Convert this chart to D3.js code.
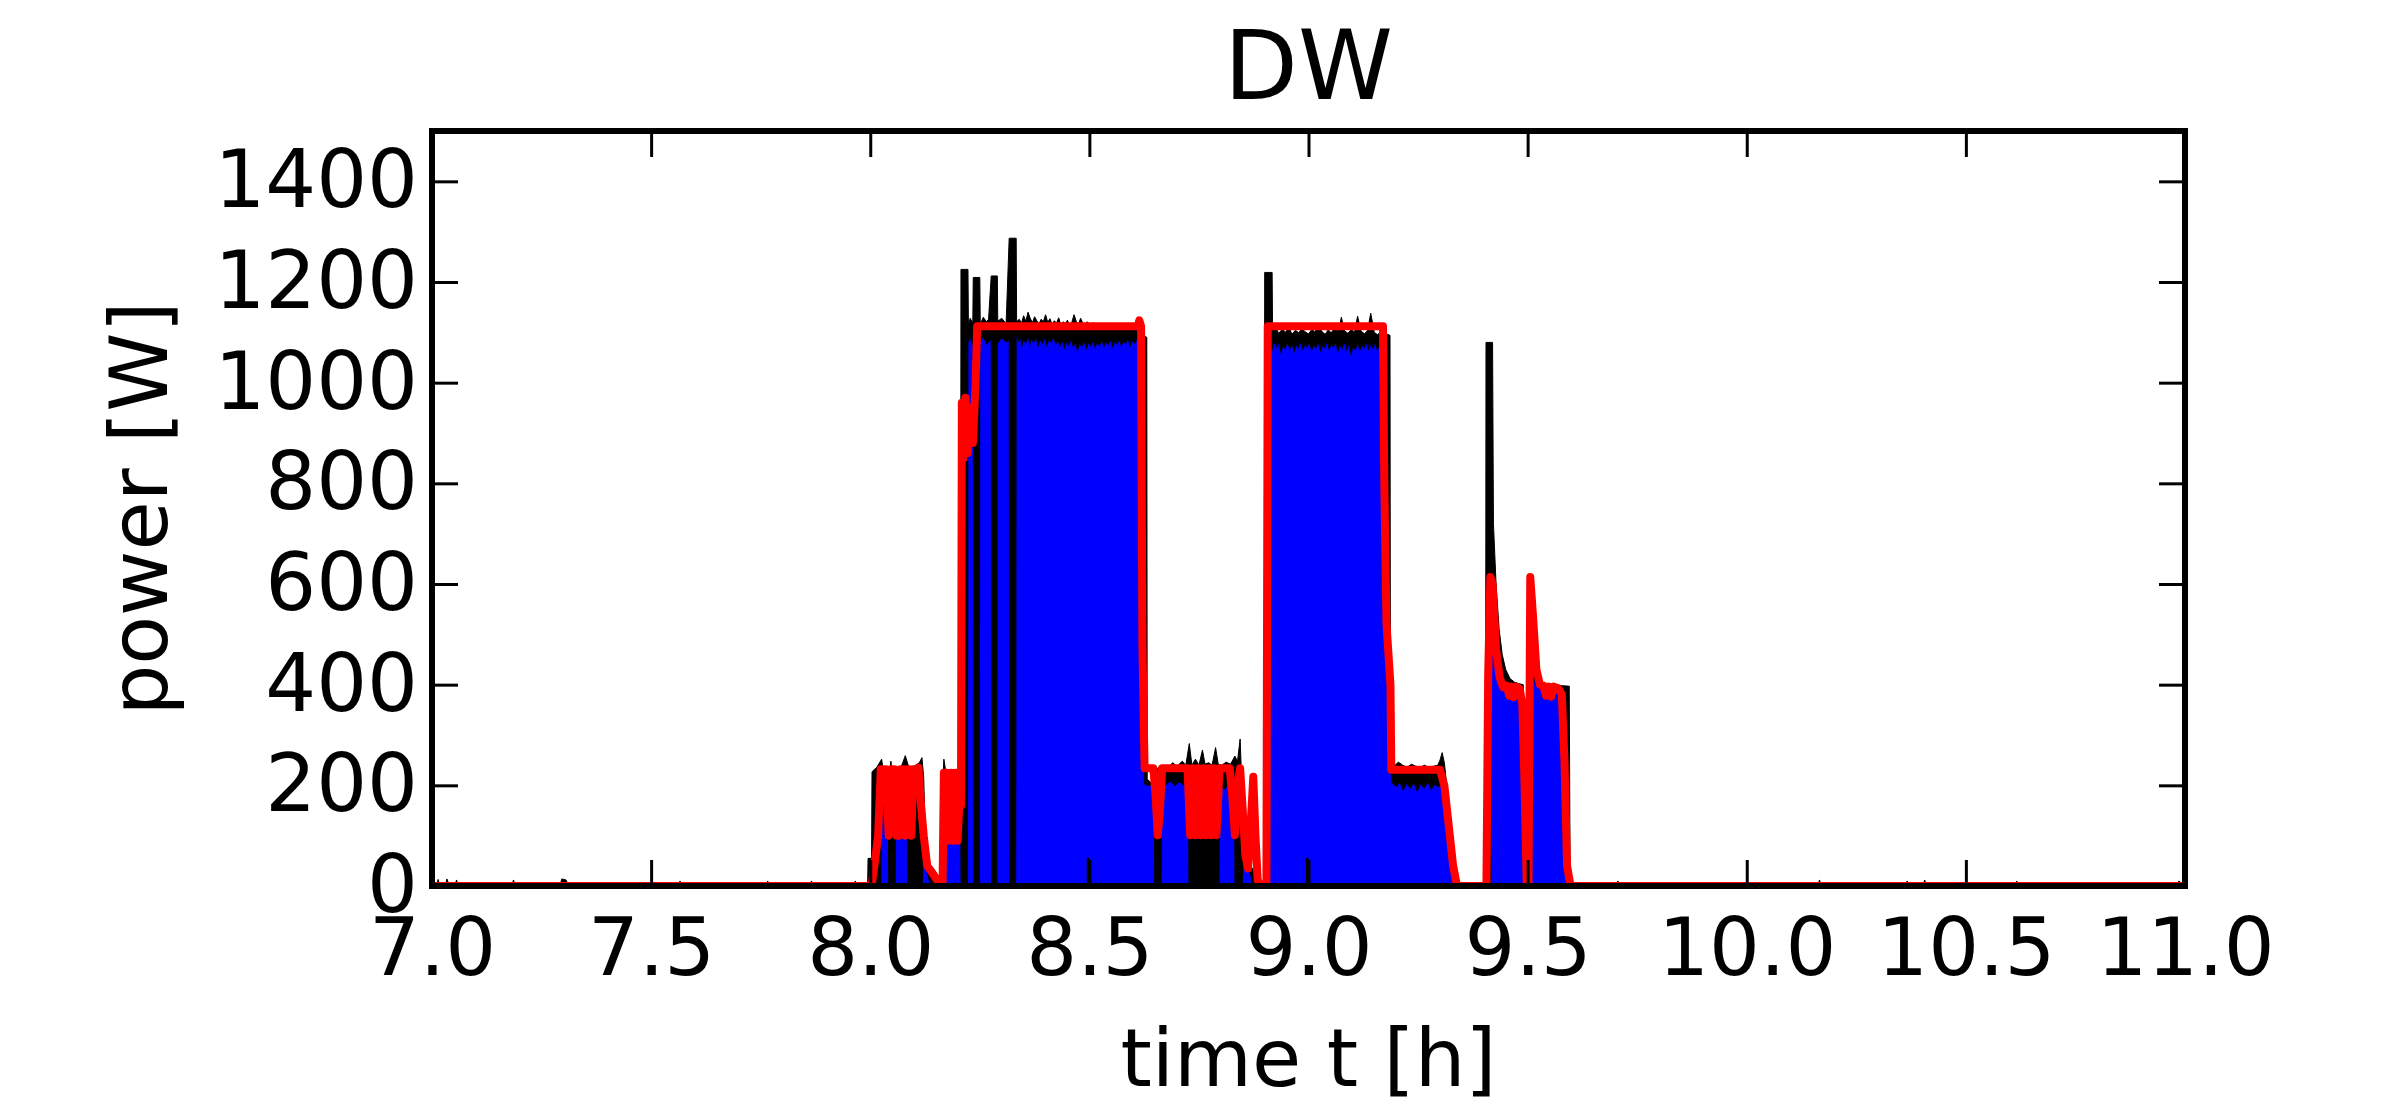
<!DOCTYPE html>
<html>
<head>
<meta charset="utf-8">
<script src="https://cdn.jsdelivr.net/npm/d3@7"></script>
<style>
body { margin: 0; background: #fff; }
text { font-family: "DejaVu Sans", sans-serif; fill: #000; }
</style>
</head>
<body>
<script>
// values
var xTicks = [7.0, 7.5, 8.0, 8.5, 9.0, 9.5, 10.0, 10.5, 11.0];
var yTicks = [0, 200, 400, 600, 800, 1000, 1200, 1400];

// measured power (black fill)  [t in h, W]
var measured = [
[7.000,0],[7.010,0],[7.014,13],[7.018,0],[7.030,0],[7.034,14],[7.040,0],[7.052,0],[7.056,12],[7.060,0],
[7.182,0],[7.186,12],[7.190,0],[7.292,0],[7.296,14],[7.306,12],[7.312,0],[7.562,0],[7.566,10],[7.570,0],
[7.762,0],[7.766,10],[7.770,0],[7.862,0],[7.866,10],[7.870,0],[7.962,0],[7.966,10],[7.970,0],
[7.994,0],[7.995,55],[8.003,55],[8.004,227],[8.015,236],[8.026,252],[8.030,228],[8.045,229],[8.047,248],
[8.050,228],[8.065,232],[8.072,240],[8.080,259],[8.088,236],[8.100,238],[8.112,245],[8.118,255],[8.122,215],
[8.125,120],[8.128,45],[8.140,38],[8.150,28],[8.158,12],[8.162,0],[8.164,180],[8.168,252],[8.172,229],
[8.185,231],[8.195,228],[8.206,229],
[8.207,1225],[8.223,1225],[8.224,1112],[8.228,1128],[8.234,1118],[8.235,1209],[8.250,1209],[8.251,1116],
[8.258,1130],[8.265,1121],[8.270,1126],[8.276,1212],[8.290,1212],[8.291,1122],[8.300,1128],[8.310,1117],
[8.317,1287],[8.333,1287],[8.334,1121],
[8.340,1126],[8.345,1118],[8.350,1133],[8.355,1122],[8.360,1140],[8.365,1128],[8.370,1119],[8.375,1131],
[8.380,1123],[8.385,1117],[8.390,1126],[8.395,1121],[8.400,1135],[8.405,1120],[8.410,1127],[8.415,1116],
[8.420,1123],[8.425,1118],[8.430,1129],[8.435,1114],[8.440,1121],[8.445,1117],[8.450,1124],[8.455,1113],
[8.460,1120],[8.465,1135],[8.470,1122],[8.475,1116],[8.480,1128],[8.485,1118],[8.490,1113],[8.495,1121],
[8.500,1116],[8.505,1112],[8.510,1119],[8.515,1114],[8.520,1110],[8.525,1117],[8.530,1112],[8.535,1108],
[8.540,1114],[8.545,1110],[8.550,1116],[8.555,1109],[8.560,1113],[8.565,1107],[8.570,1111],[8.575,1106],
[8.580,1112],[8.585,1108],[8.590,1110],[8.595,1105],[8.600,1109],[8.605,1104],[8.610,1108],[8.615,1102],
[8.620,1096],[8.631,1090],
[8.632,212],[8.640,206],[8.648,212],[8.652,232],[8.660,236],[8.668,240],[8.680,235],[8.690,245],[8.700,238],
[8.712,248],[8.720,240],[8.728,283],[8.734,240],[8.742,252],[8.750,240],[8.758,270],[8.764,242],[8.772,245],
[8.780,240],[8.788,275],[8.794,242],[8.802,240],[8.812,246],[8.822,242],[8.832,258],[8.838,248],[8.844,292],
[8.848,200],[8.852,110],[8.856,50],[8.866,42],[8.876,30],[8.884,12],[8.889,0],[8.899,0],
[8.900,1219],[8.917,1219],[8.918,1104],[8.925,1110],[8.932,1098],[8.940,1106],[8.948,1100],[8.955,1112],
[8.962,1096],[8.970,1104],[8.978,1099],[8.985,1108],[8.992,1101],[9.000,1097],[9.008,1106],[9.015,1100],
[9.022,1118],[9.030,1102],[9.038,1096],[9.045,1105],[9.052,1099],[9.060,1110],[9.068,1101],[9.075,1130],
[9.082,1103],[9.090,1098],[9.098,1106],[9.105,1100],[9.112,1132],[9.120,1102],[9.128,1097],[9.135,1104],
[9.142,1138],[9.150,1100],[9.158,1095],[9.165,1103],[9.172,1098],[9.180,1096],[9.186,1094],
[9.187,244],[9.195,238],[9.205,246],[9.215,240],[9.225,236],[9.235,242],[9.245,238],[9.255,236],[9.265,240],
[9.275,235],[9.285,238],[9.295,240],[9.300,250],[9.305,265],[9.310,245],[9.318,180],[9.326,90],[9.334,30],
[9.340,0],[9.404,0],
[9.405,1080],[9.420,1080],[9.422,720],[9.428,600],[9.435,510],[9.442,460],[9.450,430],[9.460,412],[9.470,405],
[9.480,402],[9.490,400],[9.493,250],[9.496,40],[9.499,40],[9.500,510],[9.504,500],[9.510,455],[9.518,420],
[9.526,408],[9.540,403],[9.560,400],[9.580,398],[9.595,397],[9.597,0],
[9.702,0],[9.706,10],[9.710,0],[10.162,0],[10.166,12],[10.170,0],[10.362,0],[10.366,10],[10.370,0],
[10.402,0],[10.406,12],[10.410,0],[10.612,0],[10.616,10],[10.620,0],[10.982,0],[10.986,10],[11.000,0]
];

// disaggregated appliance power (blue fill)
var appliance = [
[7.000,0],[8.025,0],[8.026,165],[8.040,162],[8.041,0],[8.058,0],[8.059,166],[8.070,160],[8.083,164],[8.084,0],
[8.120,0],[8.121,42],[8.128,30],[8.134,10],[8.135,0],[8.168,0],[8.170,164],[8.180,160],[8.190,166],[8.205,163],
[8.206,0],[8.223,0],
[8.224,1080],[8.228,1088],[8.234,1072],[8.235,0],[8.250,0],[8.251,1082],[8.258,1090],[8.265,1075],[8.275,1085],
[8.276,0],[8.290,0],[8.291,1078],[8.300,1088],[8.310,1080],[8.316,1084],[8.317,0],[8.333,0],
[8.334,1092],[8.338,1080],[8.342,1088],[8.346,1068],[8.350,1085],[8.355,1076],[8.360,1090],[8.364,1072],
[8.368,1086],[8.373,1078],[8.378,1088],[8.383,1070],[8.388,1084],[8.393,1076],[8.398,1087],[8.403,1071],
[8.408,1085],[8.413,1079],[8.418,1089],[8.423,1074],[8.428,1083],[8.433,1070],[8.438,1082],[8.443,1066],
[8.448,1080],[8.453,1072],[8.458,1084],[8.463,1068],[8.468,1079],[8.473,1060],[8.478,1077],[8.483,1070],
[8.488,1081],[8.493,1065],[8.498,1078],[8.503,1071],[8.508,1082],[8.513,1067],[8.518,1079],[8.523,1072],
[8.528,1083],[8.533,1069],[8.538,1080],[8.543,1074],[8.548,1084],[8.553,1068],[8.558,1081],[8.563,1075],
[8.568,1085],[8.573,1070],[8.578,1082],[8.583,1076],[8.588,1086],[8.593,1071],[8.598,1083],[8.603,1077],
[8.608,1085],[8.613,1072],[8.618,1080],[8.624,1078],
[8.625,202],[8.636,198],[8.647,203],[8.648,0],[8.665,0],[8.666,205],[8.675,200],[8.685,208],[8.695,198],
[8.705,206],[8.715,200],[8.725,204],[8.726,0],[8.797,0],[8.798,198],[8.808,192],[8.818,200],[8.830,195],
[8.831,0],[8.850,0],[8.851,55],[8.860,40],[8.868,20],[8.870,0],[8.911,0],
[8.912,1075],[8.917,1062],[8.922,1080],[8.927,1068],[8.932,1078],[8.937,1056],[8.942,1072],[8.947,1066],
[8.952,1079],[8.957,1064],[8.962,1076],[8.967,1058],[8.972,1074],[8.977,1067],[8.982,1080],[8.987,1063],
[8.992,1075],[8.997,1069],[9.002,1078],[9.007,1061],[9.012,1074],[9.017,1066],[9.022,1079],[9.027,1060],
[9.032,1073],[9.037,1068],[9.042,1080],[9.047,1063],[9.052,1076],[9.057,1069],[9.062,1078],[9.067,1059],
[9.072,1073],[9.077,1066],[9.082,1079],[9.087,1062],[9.092,1075],[9.097,1052],[9.102,1070],[9.107,1064],
[9.112,1077],[9.117,1061],[9.122,1074],[9.127,1067],[9.132,1079],[9.137,1063],[9.142,1076],[9.147,1066],
[9.152,1078],[9.157,1062],[9.162,1074],[9.167,1068],[9.170,1072],
[9.175,620],[9.180,420],[9.186,230],[9.190,205],[9.200,196],[9.208,205],[9.216,188],[9.224,203],[9.232,192],
[9.240,204],[9.248,186],[9.256,202],[9.264,193],[9.272,205],[9.280,190],[9.288,201],[9.296,196],[9.302,200],
[9.312,150],[9.322,90],[9.332,25],[9.338,0],[9.417,0],
[9.418,475],[9.425,440],[9.432,415],[9.440,400],[9.448,392],[9.456,396],[9.464,385],[9.472,394],[9.480,388],
[9.486,380],[9.490,300],[9.494,0],[9.510,0],[9.512,415],[9.518,400],[9.526,392],[9.534,396],[9.542,386],
[9.550,394],[9.560,388],[9.570,392],[9.580,386],[9.586,370],[9.590,0],[11.000,0]
];

// estimated power (red line)
var estimate = [
[7.000,0],[8.003,0],[8.010,45],[8.018,100],[8.024,232],[8.036,232],[8.042,100],[8.047,232],[8.055,232],
[8.060,100],[8.065,100],[8.069,232],[8.075,232],[8.080,100],[8.084,232],[8.090,232],[8.094,100],[8.098,232],
[8.104,232],[8.110,235],[8.116,160],[8.122,100],[8.130,40],[8.140,28],[8.150,15],[8.158,5],[8.165,0],
[8.168,225],[8.175,225],[8.180,90],[8.185,225],[8.190,90],[8.195,225],[8.199,90],[8.203,160],[8.207,160],
[8.209,960],[8.213,850],[8.217,970],[8.222,860],[8.228,950],[8.234,880],[8.240,990],[8.244,1112],
[8.610,1112],[8.614,1124],[8.618,1112],[8.621,480],[8.626,234],[8.646,234],[8.651,180],[8.656,101],
[8.661,150],[8.666,234],[8.724,234],[8.730,101],[8.736,234],[8.742,101],[8.748,234],[8.754,101],[8.760,234],
[8.766,101],[8.772,234],[8.778,101],[8.784,234],[8.790,101],[8.797,234],[8.820,234],[8.826,180],[8.832,101],
[8.838,200],[8.844,234],[8.850,150],[8.856,60],[8.862,35],[8.868,120],[8.874,217],[8.879,100],[8.884,12],
[8.890,0],[8.904,0],[8.907,1112],[9.170,1112],[9.173,800],[9.178,520],[9.184,440],[9.187,400],[9.189,231],
[9.300,231],[9.310,200],[9.320,120],[9.330,40],[9.339,0],[9.406,0],[9.410,420],[9.415,614],[9.420,600],
[9.428,470],[9.436,415],[9.444,395],[9.452,398],[9.458,378],[9.463,396],[9.468,375],[9.474,396],[9.482,392],
[9.488,360],[9.493,200],[9.498,0],[9.502,0],[9.506,614],[9.512,540],[9.520,430],[9.528,400],[9.536,398],
[9.542,378],[9.548,396],[9.554,376],[9.560,396],[9.570,393],[9.578,380],[9.584,250],[9.590,40],[9.598,0],
[11.000,0]
];

// short black pulses drawn over the blue  [t start, t end, W]
var pulses = [[8.494, 8.500, 56], [8.994, 9.000, 56]];

var w = 2396, h = 1106;
var padL = 432, padR = 2185, padT = 131, padB = 886;

var svg = d3.select("body")
            .append("svg")
            .attr("width", w)
            .attr("height", h);

var x = d3.scaleLinear().domain([7, 11]).range([padL, padR]);
var y = d3.scaleLinear().domain([0, 1500]).range([padB, padT]);

svg.append("clipPath").attr("id", "clip")
  .append("rect")
  .attr("x", padL).attr("y", padT)
  .attr("width", padR - padL).attr("height", padB - padT);

var plot = svg.append("g").attr("clip-path", "url(#clip)");

var area = d3.area()
  .x(function(d){ return x(d[0]); })
  .y0(y(0))
  .y1(function(d){ return y(d[1]); });

var line = d3.line()
  .x(function(d){ return x(d[0]); })
  .y(function(d){ return y(d[1]); });

plot.append("path").datum(measured)
  .attr("d", area)
  .attr("fill", "#000")
  .attr("stroke", "#000")
  .attr("stroke-width", 1);

plot.append("path").datum(appliance)
  .attr("d", area)
  .attr("fill", "#0000ff");

plot.selectAll("rect.pulse")
  .data(pulses)
  .enter()
  .append("rect")
  .attr("class", "pulse")
  .attr("x", function(d){ return x(d[0]); })
  .attr("width", function(d){ return x(d[1]) - x(d[0]); })
  .attr("y", function(d){ return y(d[2]); })
  .attr("height", function(d){ return y(0) - y(d[2]); })
  .attr("fill", "#000");

plot.append("path").datum(estimate)
  .attr("d", line)
  .attr("fill", "none")
  .attr("stroke", "#ff0000")
  .attr("stroke-width", 8)
  .attr("stroke-linejoin", "round")
  .attr("stroke-linecap", "round");

// axes: inward ticks on all four sides
var gx = svg.append("g").attr("transform", "translate(0," + padB + ")")
  .call(d3.axisBottom(x).tickValues(xTicks).tickFormat(d3.format(".1f")).tickSize(-26).tickSizeOuter(0).tickPadding(32));
var gy = svg.append("g").attr("transform", "translate(" + padL + ",0)")
  .call(d3.axisLeft(y).tickValues(yTicks).tickFormat(d3.format("d")).tickSize(-26).tickSizeOuter(0).tickPadding(14));
var gt = svg.append("g").attr("transform", "translate(0," + padT + ")")
  .call(d3.axisTop(x).tickValues(xTicks).tickFormat("").tickSize(-26).tickSizeOuter(0));
var gr = svg.append("g").attr("transform", "translate(" + padR + ",0)")
  .call(d3.axisRight(y).tickValues(yTicks).tickFormat("").tickSize(-26).tickSizeOuter(0));

[gx, gy, gt, gr].forEach(function(g){
  g.select(".domain").remove();
  g.selectAll(".tick line").attr("stroke", "#000").attr("stroke-width", 3);
  g.selectAll(".tick text")
    .attr("font-family", "DejaVu Sans")
    .attr("font-size", "80px")
    .attr("fill", "#000");
});

// frame
svg.append("rect")
  .attr("x", padL).attr("y", padT)
  .attr("width", padR - padL).attr("height", padB - padT)
  .attr("fill", "none")
  .attr("stroke", "#000")
  .attr("stroke-width", 6);

svg.append("text")
  .attr("x", (padL + padR) / 2)
  .attr("y", 99)
  .attr("text-anchor", "middle")
  .attr("font-size", "96px")
  .text("DW");

svg.append("text")
  .attr("x", (padL + padR) / 2)
  .attr("y", 1086)
  .attr("text-anchor", "middle")
  .attr("font-size", "80px")
  .text("time t [h]");

svg.append("text")
  .attr("transform", "translate(167," + (padT + padB) / 2 + ") rotate(-90)")
  .attr("text-anchor", "middle")
  .attr("font-size", "80px")
  .text("power [W]");
</script>
</body>
</html>
